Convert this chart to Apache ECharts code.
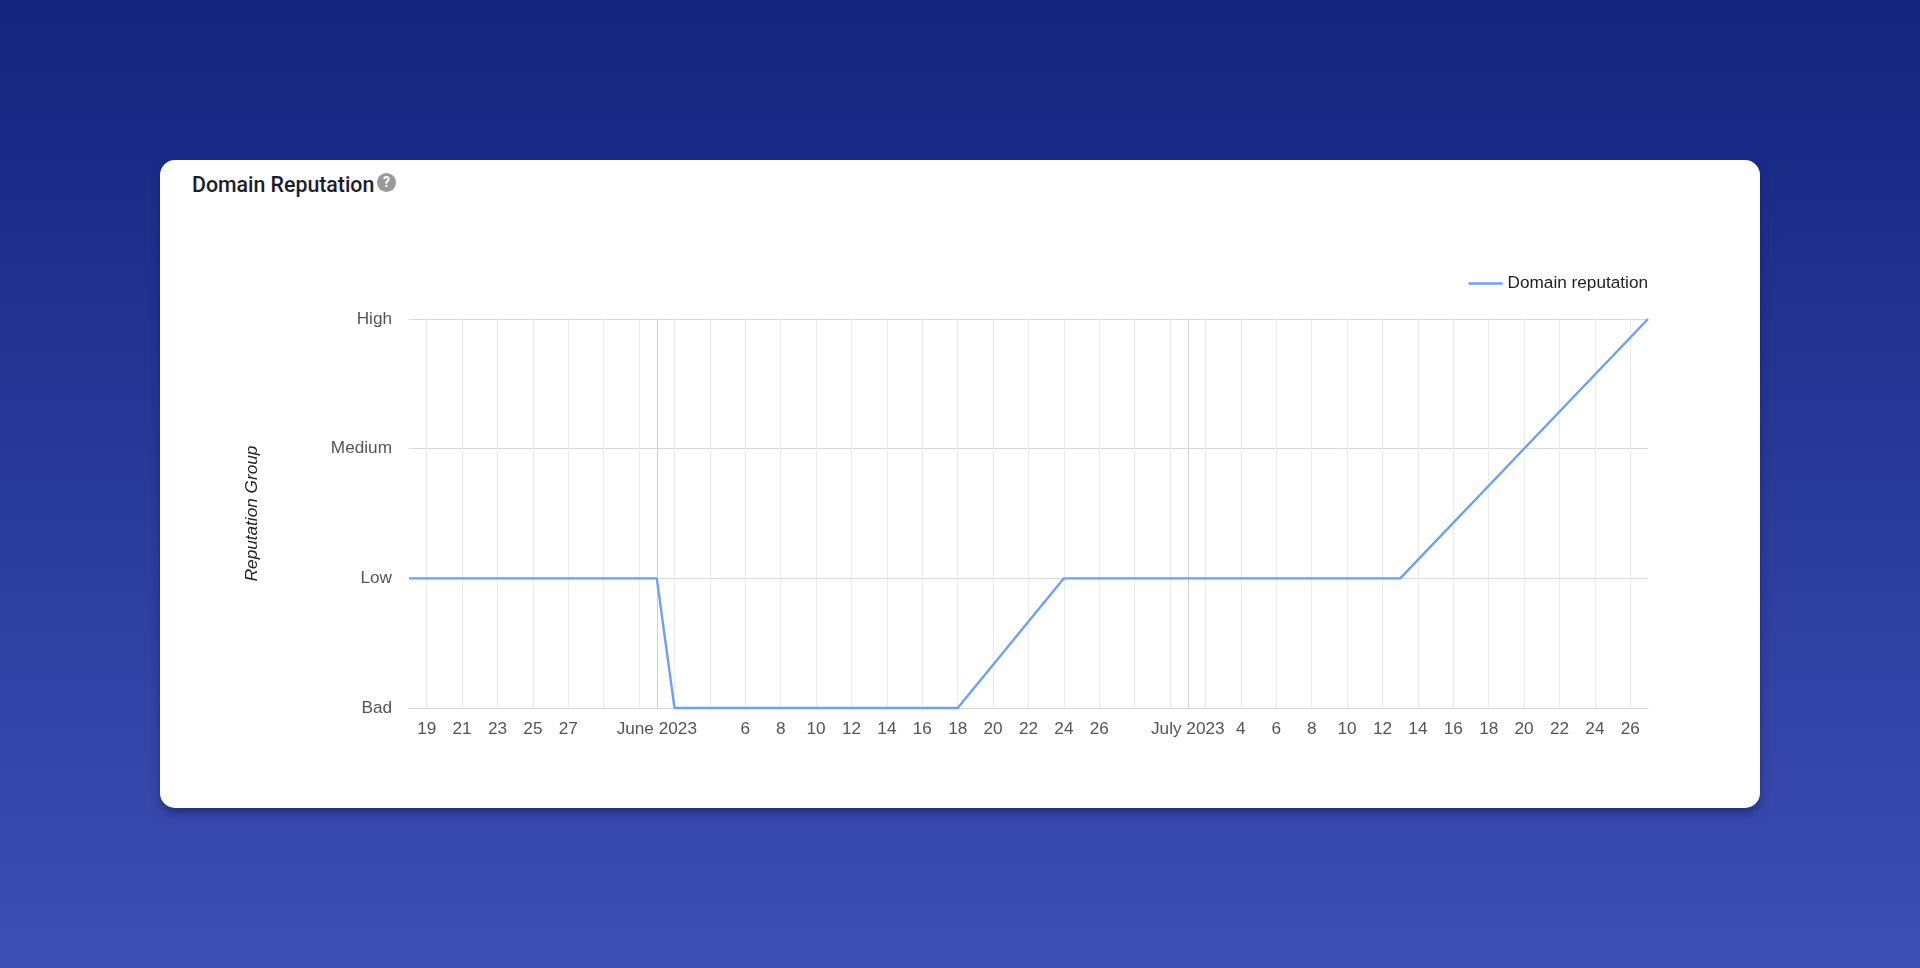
<!DOCTYPE html>
<html>
<head>
<meta charset="utf-8">
<title>Domain Reputation</title>
<script src="https://cdn.jsdelivr.net/npm/echarts@6/dist/echarts.min.js"></script>
<style>
html, body { margin: 0; height: 100%; overflow: hidden; }
body { position: relative; width: 1920px; height: 968px; background: linear-gradient(180deg, #13247e 0%, #3d4fb5 100%); }
.card { position: absolute; left: 160px; top: 160px; width: 1600px; height: 648px; background: #fff; border-radius: 15px; box-shadow: 0 5px 8px rgba(20,28,90,.55); }
.card-title { position: absolute; left: 32px; top: 10px; font: 500 21.3px/30px Roboto, sans-serif; color: #1c1c2e; white-space: nowrap; }
.help { position: absolute; left: 217px; top: 13px; width: 19px; height: 19px; border-radius: 50%; background: #9a9a9a; color: #fff; font: 700 14px/19px Roboto, sans-serif; text-align: center; }
#chart { position: absolute; left: 0; top: 0; width: 1920px; height: 968px; }
</style>
</head>
<body>
<div class="card">
  <div class="card-title">Domain Reputation</div>
  <div class="help">?</div>
</div>
<div id="chart"></div>
<script>
const monthNames = ['May', 'June', 'July']
const monthFirstDay = [18, 1, 1]
const monthLastDay = [31, 30, 27]
const levels = ['Bad', 'Low', 'Medium', 'High']

// turning points of the line, straight segments between them
const pointDays = ['May 18', 'June 1', 'June 2', 'June 18', 'June 24', 'July 13', 'July 27']
const pointLevels = ['Low', 'Low', 'Bad', 'Bad', 'Low', 'Low', 'High']

const tickDays = ['May 19', 'May 21', 'May 23', 'May 25', 'May 27', 'June 1',
  'June 6', 'June 8', 'June 10', 'June 12', 'June 14', 'June 16', 'June 18', 'June 20', 'June 22', 'June 24', 'June 26',
  'July 1', 'July 4', 'July 6', 'July 8', 'July 10', 'July 12', 'July 14', 'July 16', 'July 18', 'July 20', 'July 22', 'July 24', 'July 26']
const tickLabels = ['19', '21', '23', '25', '27', 'June 2023',
  '6', '8', '10', '12', '14', '16', '18', '20', '22', '24', '26',
  'July 2023', '4', '6', '8', '10', '12', '14', '16', '18', '20', '22', '24', '26']
const gridDays = ['May 19', 'May 21', 'May 23', 'May 25', 'May 27', 'May 29', 'May 31',
  'June 2', 'June 4', 'June 6', 'June 8', 'June 10', 'June 12', 'June 14', 'June 16', 'June 18', 'June 20', 'June 22', 'June 24', 'June 26', 'June 28', 'June 30',
  'July 2', 'July 4', 'July 6', 'July 8', 'July 10', 'July 12', 'July 14', 'July 16', 'July 18', 'July 20', 'July 22', 'July 24', 'July 26']
const monthLines = ['June 1', 'July 1']

const days = []
monthNames.forEach((m, i) => {
  for (let d = monthFirstDay[i]; d <= monthLastDay[i]; d++) days.push(`${m} ${d}`)
})

const font = '"Liberation Sans", Arial, sans-serif'
const chart = echarts.init(document.getElementById('chart'), null, { renderer: 'canvas' })

chart.setOption({
  backgroundColor: 'transparent',
  animation: false,
  legend: {
    top: 275, right: 272, itemWidth: 34, itemHeight: 2.4, itemGap: 6, padding: 0,
    textStyle: { color: '#222', fontFamily: font, fontSize: 17.2 },
    data: [{ name: 'Domain reputation', icon: 'rect' }]
  },
  grid: { left: 409, right: 272, top: 319, bottom: 260 },
  xAxis: {
    type: 'category', data: days, boundaryGap: false,
    axisTick: { show: false },
    axisLine: { lineStyle: { color: '#d6d6d6', width: 1 } },
    axisLabel: {
      color: '#555', fontFamily: font, fontSize: 17.2, margin: 13, hideOverlap: false,
      interval: (i, v) => tickDays.includes(v),
      formatter: v => tickLabels[tickDays.indexOf(v)]
    },
    splitLine: {
      show: true,
      interval: (i, v) => gridDays.includes(v),
      lineStyle: { color: '#ebebeb', width: 1 }
    }
  },
  yAxis: {
    type: 'category', data: levels, boundaryGap: false,
    name: 'Reputation Group', nameLocation: 'middle', nameGap: 148, nameRotate: 90,
    nameTextStyle: { color: '#222', fontFamily: font, fontSize: 17.2, fontStyle: 'italic' },
    axisTick: { show: false },
    axisLine: { show: false },
    axisLabel: { color: '#555', fontFamily: font, fontSize: 17.2, margin: 17 },
    splitLine: { show: true, interval: 0, lineStyle: { color: '#d9d9d9', width: 1 } }
  },
  series: [{
    name: 'Domain reputation', type: 'line', symbol: 'none', clip: false, z: 5,
    data: pointDays.map((d, i) => [d, pointLevels[i]]),
    lineStyle: { color: '#6ea0fa', width: 2.4 },
    itemStyle: { color: '#6ea0fa' },
    markLine: {
      silent: true, symbol: 'none', z: 1, label: { show: false },
      lineStyle: { color: '#cfcfcf', width: 1, type: 'solid' },
      data: monthLines.map(d => ({ xAxis: d }))
    }
  }]
})
</script>
</body>
</html>
